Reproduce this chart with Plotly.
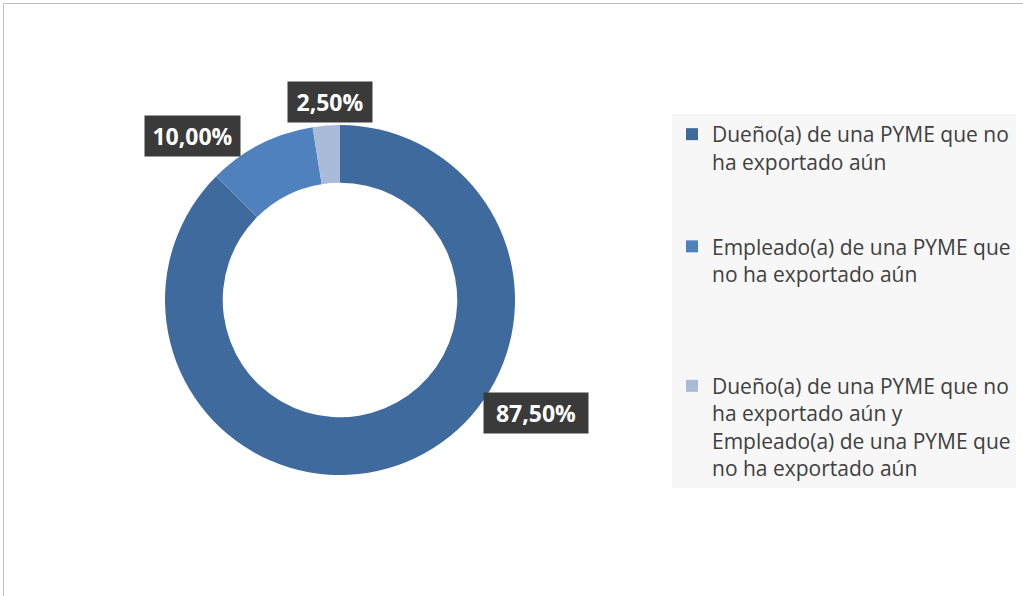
import plotly.graph_objects as go

categories = [
    "Dueño(a) de una PYME que no<br>ha exportado aún",
    "Empleado(a) de una PYME que<br>no ha exportado aún",
    "Dueño(a) de una PYME que no<br>ha exportado aún y<br>Empleado(a) de una PYME que<br>no ha exportado aún",
]
values = [87.5, 10.0, 2.5]
colors = ["#3F6A9E", "#4F81BD", "#A9BBD9"]
# blank lines appended to legend entries to mimic spacing
legend_pad = ["<br> <br> ", "<br> <br> <br> ", ""]
label_pos = [(0.524, 0.307), (0.188, 0.772), (0.323, 0.829)]
label_w = [92, 83, 72]

W, H = 1023, 596
fig = go.Figure()
fig.add_trace(go.Pie(
    labels=[c + p for c, p in zip(categories, legend_pad)],
    values=values,
    hole=0.67,
    sort=False,
    direction="clockwise",
    rotation=0,
    marker=dict(colors=colors, line=dict(color="white", width=0)),
    textinfo="none",
    hoverinfo="label+percent",
    domain=dict(x=[165 / W, 515 / W], y=[(H - 475) / H, (H - 125) / H]),
))

for v, (x, y), w in zip(values, label_pos, label_w):
    fig.add_annotation(
        x=x, y=y, xref="paper", yref="paper",
        xanchor="center", yanchor="middle",
        text="<b>" + f"{v:.2f}%".replace(".", ",") + "</b>",
        showarrow=False,
        font=dict(family="Open Sans", size=23, color="white"),
        bgcolor="#3A3A3A",
        width=w, height=28,
        borderpad=6,
    )

fig.add_shape(type="rect", xref="paper", yref="paper",
              x0=3.5 / W, x1=1.05, y0=-0.05, y1=(H - 3.5) / H,
              line=dict(color="#BFBFBF", width=1), fillcolor="rgba(0,0,0,0)")

fig.update_layout(
    width=W, height=H,
    margin=dict(l=0, r=0, t=0, b=0),
    paper_bgcolor="white",
    plot_bgcolor="white",
    showlegend=True,
    legend=dict(
        x=672 / W, y=(H - 114) / H, xanchor="left", yanchor="top",
        bgcolor="#F7F7F7",
        font=dict(family="Open Sans", size=21, color="#404040"),
        valign="top",
        itemsizing="constant",
        itemwidth=30,
    ),
)

fig.write_html("out.html", config={"displayModeBar": False},
               post_script="document.body.style.margin='0';")
